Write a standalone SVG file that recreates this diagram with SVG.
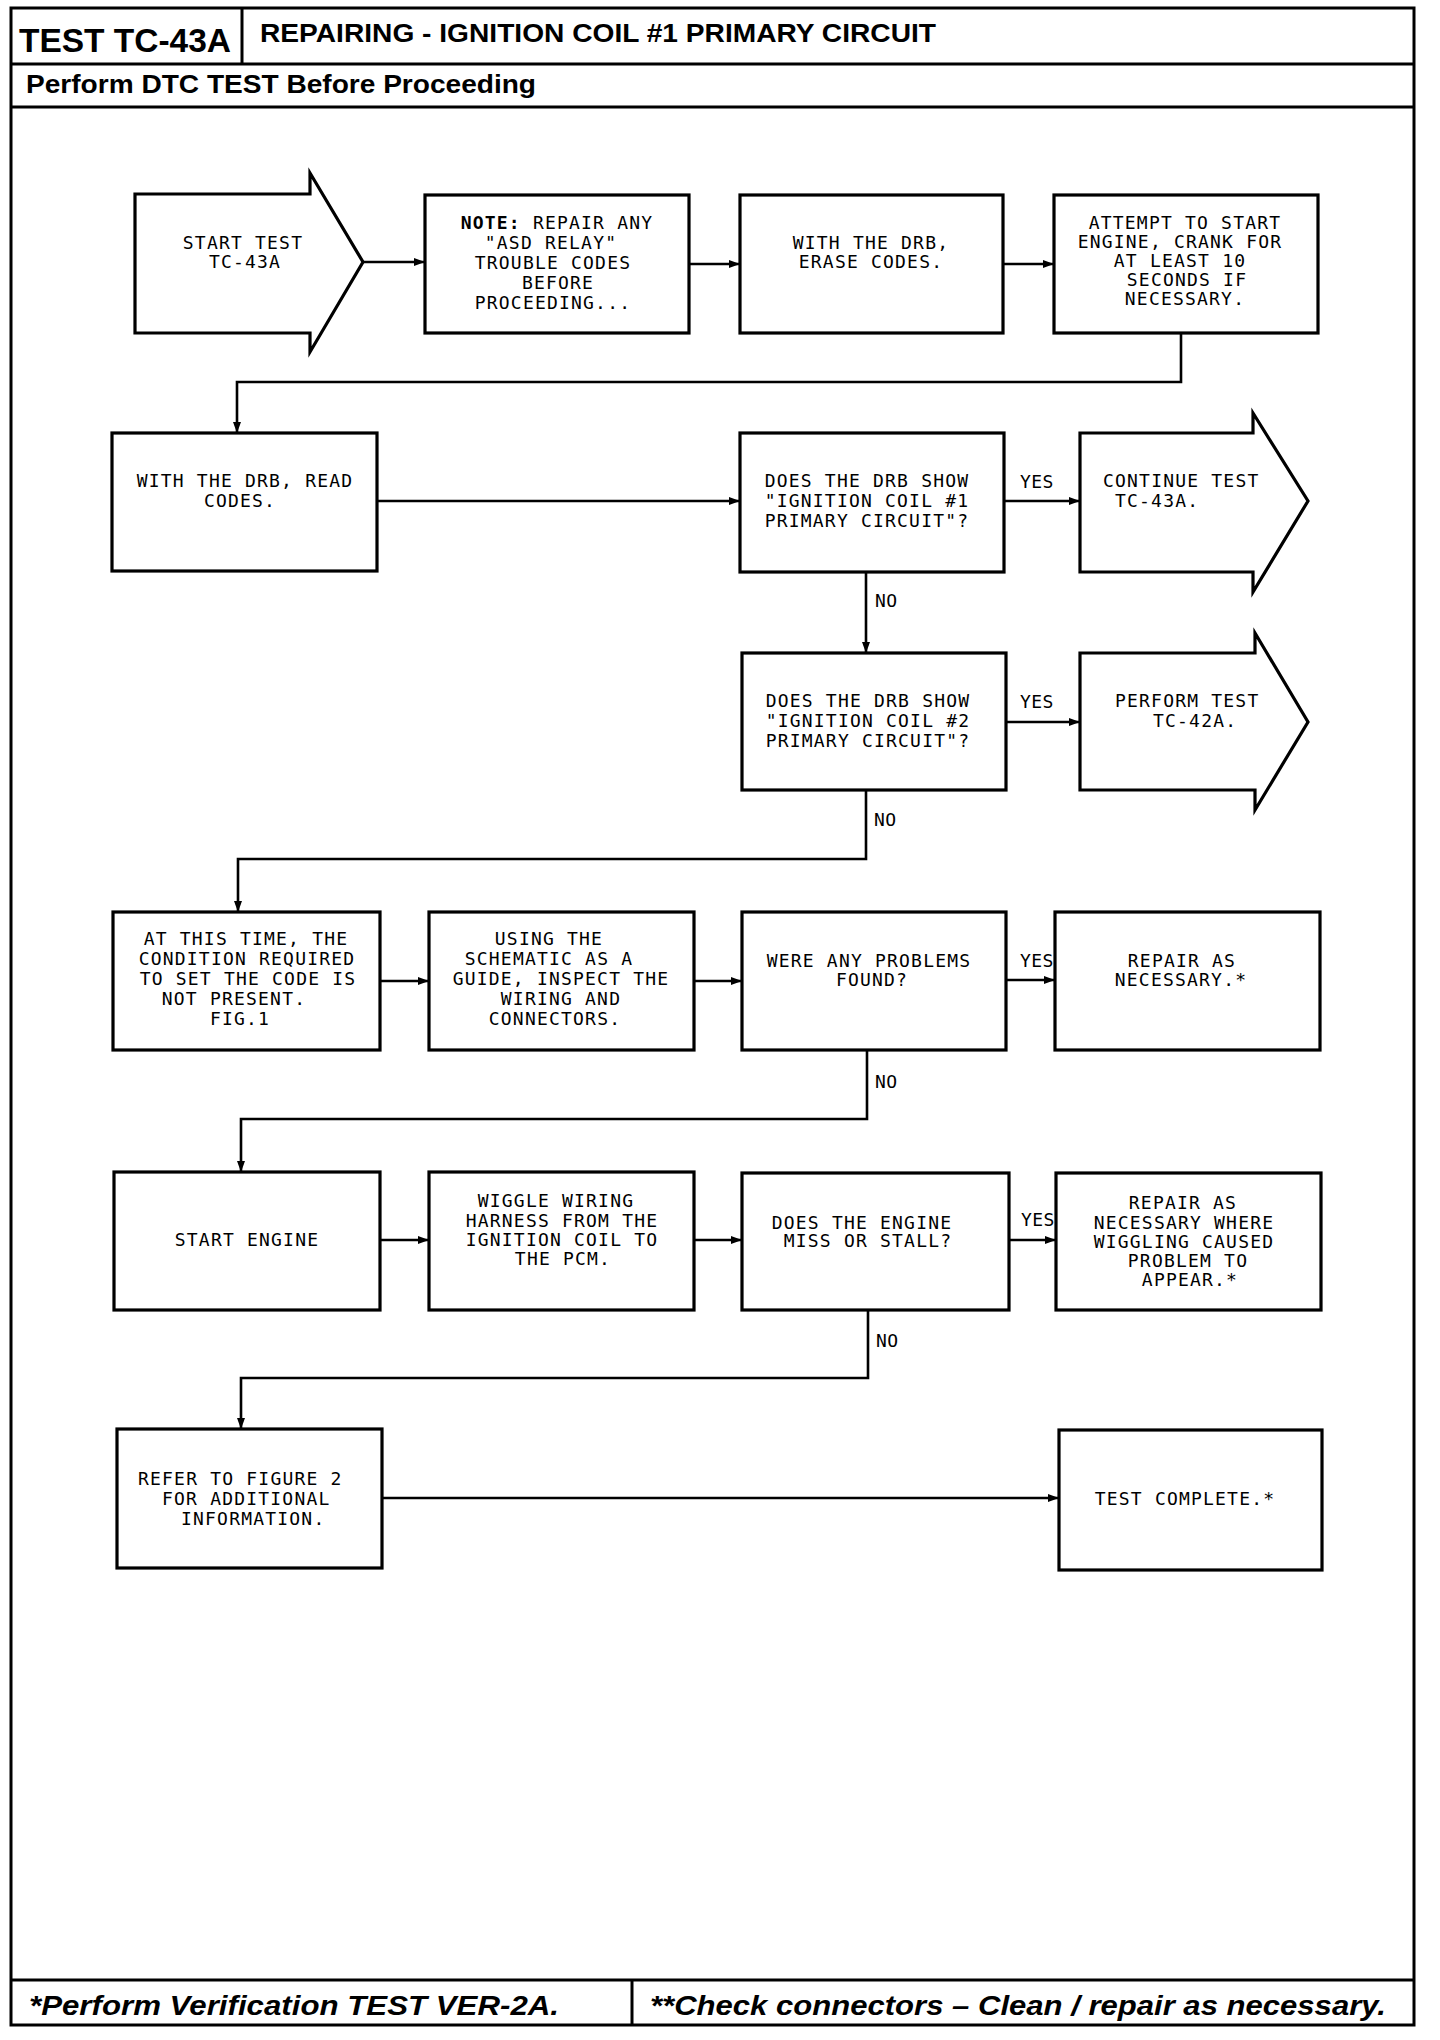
<svg xmlns="http://www.w3.org/2000/svg" width="1440" height="2040" viewBox="0 0 1440 2040">
<style>
.frame{fill:none;stroke:#000;stroke-width:3}
.box{fill:#fff;stroke:#000;stroke-width:3.2}
.ln{fill:none;stroke:#000;stroke-width:2.6}
.t{font-family:"DejaVu Sans Mono","Liberation Mono",monospace;font-size:18px;letter-spacing:1.2px;fill:#000;text-anchor:middle}
.ts{font-family:"DejaVu Sans Mono","Liberation Mono",monospace;font-size:18px;letter-spacing:1.2px;fill:#000}
.lbl{font-family:"DejaVu Sans Mono","Liberation Mono",monospace;font-size:18px;letter-spacing:0.4px;fill:#000}
.hd{font-family:"Liberation Sans",Arial,sans-serif;font-weight:bold;fill:#000}
.ft{font-family:"Liberation Sans",Arial,sans-serif;font-weight:bold;font-style:italic;fill:#000}
</style>
<defs>
<marker id="ah" markerWidth="12" markerHeight="10" refX="11" refY="5" orient="auto" markerUnits="userSpaceOnUse">
<path d="M0,1 L11,5 L0,9 Z" fill="#000"/>
</marker>
</defs>
<rect width="1440" height="2040" fill="#fff"/>
<g id="frame">
<rect class="frame" x="11" y="8" width="1403" height="2017"/>
<line class="frame" x1="11" y1="64" x2="1414" y2="64"/>
<line class="frame" x1="242" y1="8" x2="242" y2="64"/>
<line class="frame" x1="11" y1="107" x2="1414" y2="107"/>
<line class="frame" x1="11" y1="1980" x2="1414" y2="1980"/>
<line class="frame" x1="632" y1="1980" x2="632" y2="2025"/>
<text class="hd" x="19" y="52" font-size="33" textLength="212" lengthAdjust="spacingAndGlyphs">TEST TC-43A</text>
<text class="hd" x="260" y="42" font-size="26" textLength="676" lengthAdjust="spacingAndGlyphs">REPAIRING - IGNITION COIL #1 PRIMARY CIRCUIT</text>
<text class="hd" x="26" y="93" font-size="25" textLength="510" lengthAdjust="spacingAndGlyphs">Perform DTC TEST Before Proceeding</text>
<text class="ft" x="29" y="2015" font-size="28" textLength="530" lengthAdjust="spacingAndGlyphs">*Perform Verification TEST VER-2A.</text>
<text class="ft" x="650" y="2015" font-size="28" textLength="736" lengthAdjust="spacingAndGlyphs">**Check connectors – Clean / repair as necessary.</text>
</g>
<g id="connectors">
<line class="ln" x1="363" y1="262" x2="425" y2="262" marker-end="url(#ah)"/>
<line class="ln" x1="689" y1="264" x2="740" y2="264" marker-end="url(#ah)"/>
<line class="ln" x1="1003" y1="264" x2="1054" y2="264" marker-end="url(#ah)"/>
<polyline class="ln" points="1181,333 1181,382 237,382 237,433" marker-end="url(#ah)"/>
<line class="ln" x1="377" y1="501" x2="740" y2="501" marker-end="url(#ah)"/>
<line class="ln" x1="1004" y1="501" x2="1080" y2="501" marker-end="url(#ah)"/>
<text class="lbl" x="1020" y="488">YES</text>
<line class="ln" x1="866" y1="572" x2="866" y2="653" marker-end="url(#ah)"/>
<text class="lbl" x="875" y="607">NO</text>
<line class="ln" x1="1006" y1="722" x2="1080" y2="722" marker-end="url(#ah)"/>
<text class="lbl" x="1020" y="708">YES</text>
<polyline class="ln" points="866,790 866,859 238,859 238,912" marker-end="url(#ah)"/>
<text class="lbl" x="874" y="826">NO</text>
<line class="ln" x1="380" y1="981" x2="429" y2="981" marker-end="url(#ah)"/>
<line class="ln" x1="694" y1="981" x2="742" y2="981" marker-end="url(#ah)"/>
<line class="ln" x1="1006" y1="980" x2="1055" y2="980" marker-end="url(#ah)"/>
<text class="lbl" x="1020" y="967">YES</text>
<polyline class="ln" points="867,1050 867,1119 241,1119 241,1172" marker-end="url(#ah)"/>
<text class="lbl" x="875" y="1088">NO</text>
<line class="ln" x1="380" y1="1240" x2="429" y2="1240" marker-end="url(#ah)"/>
<line class="ln" x1="694" y1="1240" x2="742" y2="1240" marker-end="url(#ah)"/>
<line class="ln" x1="1009" y1="1240" x2="1056" y2="1240" marker-end="url(#ah)"/>
<text class="lbl" x="1021" y="1226">YES</text>
<polyline class="ln" points="868,1310 868,1378 241,1378 241,1429" marker-end="url(#ah)"/>
<text class="lbl" x="876" y="1347">NO</text>
<line class="ln" x1="382" y1="1498" x2="1059" y2="1498" marker-end="url(#ah)"/>
</g>
<g id="n1">
<polygon class="box" points="135,194 310,194 310,173 363,262 310,352 310,333 135,333"/>
<text class="t" x="243" y="249">START TEST</text>
<text class="t" x="245" y="268">TC-43A</text>
</g>
<g id="n2">
<rect class="box" x="425" y="195" width="264" height="138"/>
<text class="t" x="557" y="229"><tspan font-weight="bold">NOTE:</tspan> REPAIR ANY</text>
<text class="t" x="551" y="249">"ASD RELAY"</text>
<text class="t" x="553" y="269">TROUBLE CODES</text>
<text class="t" x="558" y="289">BEFORE</text>
<text class="t" x="553" y="309">PROCEEDING...</text>
</g>
<g id="n3">
<rect class="box" x="740" y="195" width="263" height="138"/>
<text class="t" x="871" y="249">WITH THE DRB,</text>
<text class="t" x="871" y="268">ERASE CODES.</text>
</g>
<g id="n4">
<rect class="box" x="1054" y="195" width="264" height="138"/>
<text class="t" x="1185" y="229">ATTEMPT TO START</text>
<text class="t" x="1180" y="248">ENGINE, CRANK FOR</text>
<text class="t" x="1180" y="267">AT LEAST 10</text>
<text class="t" x="1187" y="286">SECONDS IF</text>
<text class="t" x="1185" y="305">NECESSARY.</text>
</g>
<g id="n5">
<rect class="box" x="112" y="433" width="265" height="138"/>
<text class="t" x="245" y="487">WITH THE DRB, READ</text>
<text class="t" x="240" y="507">CODES.</text>
</g>
<g id="n6">
<rect class="box" x="740" y="433" width="264" height="139"/>
<text class="t" x="867" y="487">DOES THE DRB SHOW</text>
<text class="t" x="867" y="507">"IGNITION COIL #1</text>
<text class="t" x="867" y="527">PRIMARY CIRCUIT"?</text>
</g>
<g id="n7">
<polygon class="box" points="1080,433 1253,433 1253,413 1308,501 1253,592 1253,572 1080,572"/>
<text class="ts" x="1103" y="487">CONTINUE TEST</text>
<text class="ts" x="1115" y="507">TC-43A.</text>
</g>
<g id="n8">
<rect class="box" x="742" y="653" width="264" height="137"/>
<text class="t" x="868" y="707">DOES THE DRB SHOW</text>
<text class="t" x="868" y="727">"IGNITION COIL #2</text>
<text class="t" x="868" y="747">PRIMARY CIRCUIT"?</text>
</g>
<g id="n9">
<polygon class="box" points="1080,653 1255,653 1255,633 1308,722 1255,810 1255,790 1080,790"/>
<text class="ts" x="1115" y="707">PERFORM TEST</text>
<text class="ts" x="1153" y="727">TC-42A.</text>
</g>
<g id="n10">
<rect class="box" x="113" y="912" width="267" height="138"/>
<text class="t" x="246" y="945">AT THIS TIME, THE</text>
<text class="t" x="247" y="965">CONDITION REQUIRED</text>
<text class="t" x="248" y="985">TO SET THE CODE IS</text>
<text class="t" x="234" y="1005">NOT PRESENT.</text>
<text class="t" x="240" y="1025">FIG.1</text>
</g>
<g id="n11">
<rect class="box" x="429" y="912" width="265" height="138"/>
<text class="t" x="549" y="945">USING THE</text>
<text class="t" x="549" y="965">SCHEMATIC AS A</text>
<text class="t" x="561" y="985">GUIDE, INSPECT THE</text>
<text class="t" x="561" y="1005">WIRING AND</text>
<text class="t" x="555" y="1025">CONNECTORS.</text>
</g>
<g id="n12">
<rect class="box" x="742" y="912" width="264" height="138"/>
<text class="t" x="869" y="967">WERE ANY PROBLEMS</text>
<text class="t" x="872" y="986">FOUND?</text>
</g>
<g id="n13">
<rect class="box" x="1055" y="912" width="265" height="138"/>
<text class="t" x="1182" y="967">REPAIR AS</text>
<text class="t" x="1181" y="986">NECESSARY.*</text>
</g>
<g id="n14">
<rect class="box" x="114" y="1172" width="266" height="138"/>
<text class="t" x="247" y="1246">START ENGINE</text>
</g>
<g id="n15">
<rect class="box" x="429" y="1172" width="265" height="138"/>
<text class="t" x="556" y="1207">WIGGLE WIRING</text>
<text class="t" x="562" y="1227">HARNESS FROM THE</text>
<text class="t" x="562" y="1246">IGNITION COIL TO</text>
<text class="t" x="563" y="1265">THE PCM.</text>
</g>
<g id="n16">
<rect class="box" x="742" y="1173" width="267" height="137"/>
<text class="t" x="862" y="1229">DOES THE ENGINE</text>
<text class="t" x="868" y="1247">MISS OR STALL?</text>
</g>
<g id="n17">
<rect class="box" x="1056" y="1173" width="265" height="137"/>
<text class="t" x="1183" y="1209">REPAIR AS</text>
<text class="t" x="1184" y="1229">NECESSARY WHERE</text>
<text class="t" x="1184" y="1248">WIGGLING CAUSED</text>
<text class="t" x="1188" y="1267">PROBLEM TO</text>
<text class="t" x="1190" y="1286">APPEAR.*</text>
</g>
<g id="n18">
<rect class="box" x="117" y="1429" width="265" height="139"/>
<text class="ts" x="138" y="1485">REFER TO FIGURE 2</text>
<text class="ts" x="162" y="1505">FOR ADDITIONAL</text>
<text class="ts" x="181" y="1525">INFORMATION.</text>
</g>
<g id="n19">
<rect class="box" x="1059" y="1430" width="263" height="140"/>
<text class="t" x="1185" y="1505">TEST COMPLETE.*</text>
</g>
</svg>
